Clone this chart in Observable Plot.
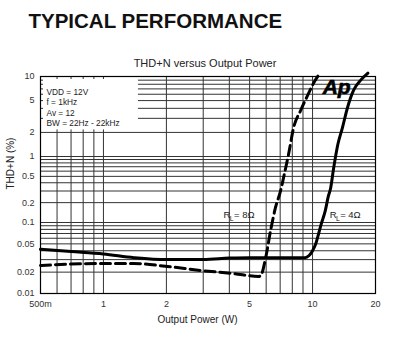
<!DOCTYPE html>
<html><head><meta charset="utf-8">
<script src="https://cdn.jsdelivr.net/npm/d3@7"></script>
<script src="https://cdn.jsdelivr.net/npm/@observablehq/plot@0.6"></script>
<style>
body{margin:0;background:#fff;}
</style></head><body>
<div id="chart"></div>
<script>
// ---- data ----
const xTicks = [0.5, 1, 2, 5, 10, 20];
const xTickLabels = ["500m", "1", "2", "5", "10", "20"];
const yTicks = [10, 5, 2, 1, 0.5, 0.2, 0.1, 0.05, 0.02, 0.01];
const yTickLabels = ["10", "5", "2", "1", "0.5", "0.2", "0.1", "0.05", "0.02", "0.01"];
const xGrid = [0.6, 0.7, 0.8, 0.9, 1, 2, 3, 4, 5, 6, 7, 8, 9, 10, 20];
const yGrid = [0.02, 0.03, 0.04, 0.05, 0.06, 0.07, 0.08, 0.09, 0.1,
               0.2, 0.3, 0.4, 0.5, 0.6, 0.7, 0.8, 0.9, 1,
               2, 3, 4, 5, 6, 7, 8, 9];
// RL = 4 ohm (solid)
const power4 = [0.5, 0.7, 1, 1.4, 2, 3, 4, 5, 7, 9.2, 9.6, 10, 10.4, 10.7, 11, 11.5, 11.9, 12.2, 12.6, 13.2, 13.9, 14.7, 15.7, 17, 18.4];
const thd4   = [0.042, 0.039, 0.036, 0.032, 0.030, 0.030, 0.0315, 0.032, 0.032, 0.032, 0.034, 0.040, 0.052, 0.07, 0.095, 0.15, 0.25, 0.33, 0.65, 1.4, 2.3, 4.1, 6.7, 9.0, 11];
// RL = 8 ohm (dashed)
const power8 = [0.5, 0.97, 1.39, 2.03, 2.92, 4.19, 5.52, 5.64, 5.97, 6.3, 6.65, 7.04, 7.27, 7.69, 8.12, 8.77, 9.47, 10.1, 10.9];
const thd8   = [0.0248, 0.0265, 0.0265, 0.024, 0.0211, 0.0191, 0.0174, 0.0177, 0.032, 0.077, 0.169, 0.306, 0.48, 1.09, 2.3, 3.76, 5.8, 8.2, 11.2];
const conditions = ["VDD = 12V", "f = 1kHz", "Av = 12", "BW = 22Hz - 22kHz"];
const loadNames = ["= 8Ω", "= 4Ω"];
const loadLabelX = [3.75, 12.07];
const loadLabelY = [0.115, 0.115];

const s4 = power4.map((p, i) => ({p, v: thd4[i]}));
const s8 = power8.map((p, i) => ({p, v: thd8[i]}));
const loads = loadNames.map((t, i) => ({t, x: loadLabelX[i], y: loadLabelY[i]}));
const xt = xTicks.map((v, i) => ({v, t: xTickLabels[i]}));
const yt = yTicks.map((v, i) => ({v, t: yTickLabels[i]}));

const font = "Liberation Sans, Arial, Helvetica, sans-serif";

const chart = Plot.plot({
  width: 400, height: 353,
  marginTop: 76, marginBottom: 60, marginLeft: 40, marginRight: 25,
  style: {fontFamily: font, background: "#fff", color: "#222", overflow: "visible"},
  x: {type: "log", domain: [0.5, 20], axis: null},
  y: {type: "log", domain: [0.01, 0.1, 1, 10], range: [293, 222, 156, 76], axis: null},
  marks: [
    Plot.ruleX(xGrid, {stroke: "#333", strokeWidth: 1}),
    Plot.ruleY(yGrid, {stroke: "#333", strokeWidth: 1}),
    // white box behind the test conditions
    Plot.rect([{a: 0.5, b: 1.47, c: 2.15, d: 10}], {x1: "a", x2: "b", y1: "c", y2: "d", fill: "#fff", insetTop: 3, insetLeft: 3}),
    Plot.text([conditions.join("\n")], {frameAnchor: "top-left", dx: 6, dy: 10.6, textAnchor: "start", lineAnchor: "top", fontSize: 8.3, lineHeight: 1.27, fill: "#222"}),
    Plot.line(s8, {x: "p", y: "v", stroke: "#000", strokeWidth: 3, strokeDasharray: "10,5", curve: "monotone-x"}),
    Plot.line(s4, {x: "p", y: "v", stroke: "#000", strokeWidth: 3, curve: "monotone-x"}),
    Plot.frame({stroke: "#000", strokeWidth: 1.2}),
    // tick labels
    Plot.text(xt, {x: "v", text: "t", frameAnchor: "bottom", dy: 13, lineAnchor: "bottom", fontSize: 9, fill: "#333"}),
    Plot.text(yt, {y: "v", text: "t", frameAnchor: "left", dx: -6, textAnchor: "end", lineAnchor: "middle", fontSize: 9, fill: "#333"}),
    // load labels R_L
    Plot.text(loads, {x: "x", y: "y", text: () => "R", textAnchor: "start", lineAnchor: "bottom", fontSize: 9.5, fill: "#222"}),
    Plot.text(loads, {x: "x", y: "y", text: () => "L", textAnchor: "start", lineAnchor: "bottom", fontSize: 7, dx: 6.3, dy: 2.5, fill: "#222"}),
    Plot.text(loads, {x: "x", y: "y", text: "t", textAnchor: "start", lineAnchor: "bottom", fontSize: 9.5, dx: 10.5, fill: "#222"}),
    // Audio Precision logo
    Plot.text([{x: 13.04, y: 6.1, t: "Ap"}], {x: "x", y: "y", text: "t", textAnchor: "middle", lineAnchor: "bottom", fontSize: 21, fontWeight: "bold", fontStyle: "italic", letterSpacing: -1, fill: "#000", stroke: "#000", strokeWidth: 0.6}),
    // titles
    Plot.text(["TYPICAL PERFORMANCE"], {frameAnchor: "top-left", dx: -12, dy: -49, textAnchor: "start", lineAnchor: "bottom", fontSize: 20.5, fontWeight: "bold", fill: "#111"}),
    Plot.text(["THD+N versus Output Power"], {frameAnchor: "top", dx: -3, dy: -10, lineAnchor: "bottom", fontSize: 11, fill: "#222"}),
    Plot.text(["Output Power (W)"], {frameAnchor: "bottom", dx: -10.5, dy: 29, lineAnchor: "bottom", fontSize: 10, fill: "#222"}),
    Plot.text(["THD+N (%)"], {frameAnchor: "left", dx: -30, dy: 4.5, rotate: -90, fontSize: 10, fill: "#222"})
  ]
});
document.getElementById("chart").appendChild(chart);
</script>
</body></html>
